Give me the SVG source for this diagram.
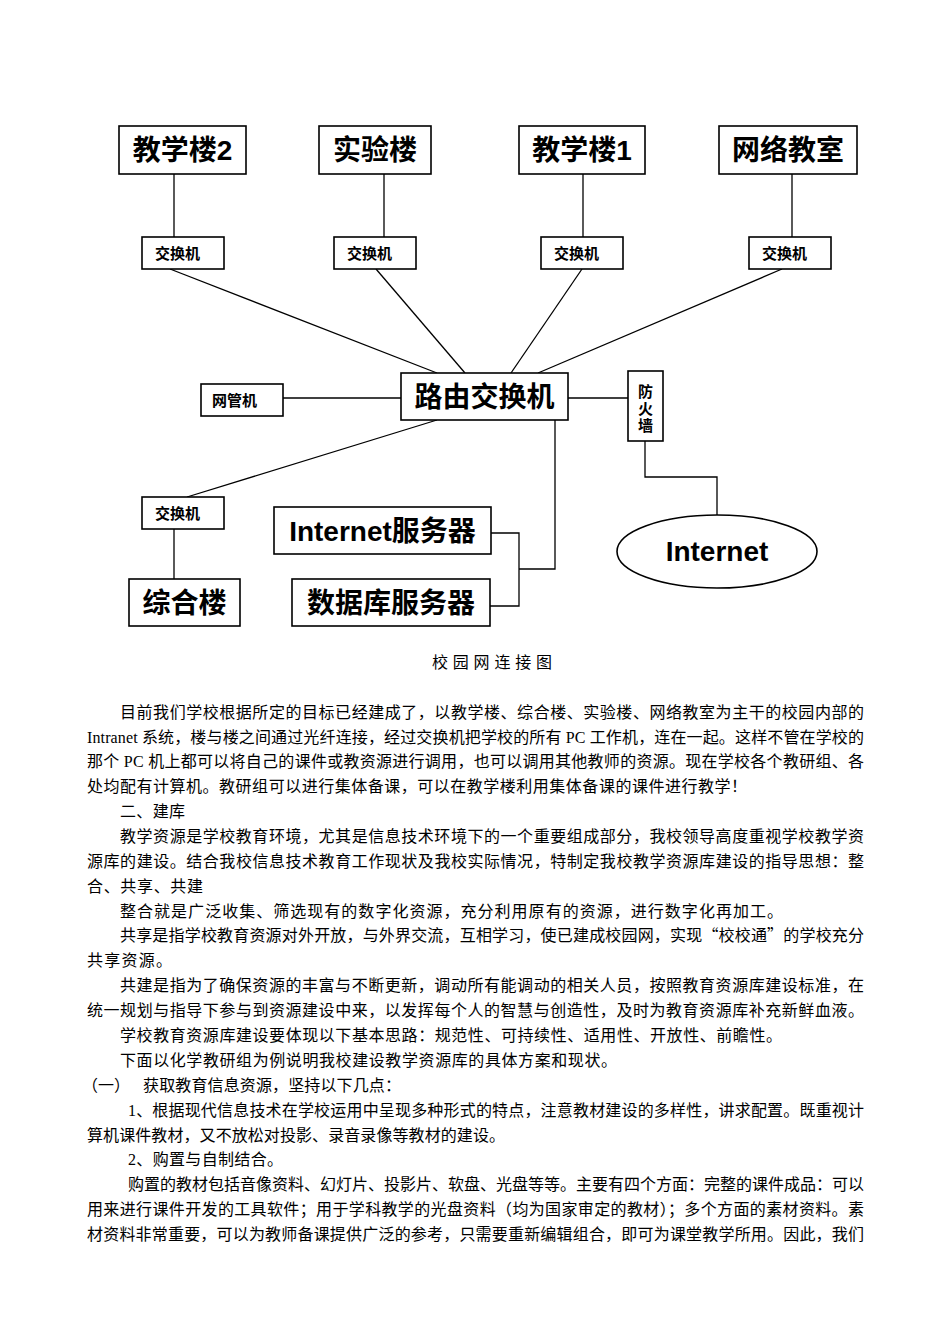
<svg xmlns="http://www.w3.org/2000/svg" width="950" height="1344" viewBox="0 0 950 1344">
<style>
.box{fill:#fff;stroke:#000;stroke-width:1.6}
.big{font-family:"Liberation Sans","Noto Sans CJK SC",sans-serif;font-weight:bold;font-size:28px;fill:#000}
.sm{font-family:"Liberation Sans","Noto Sans CJK SC",sans-serif;font-weight:bold;font-size:15px;fill:#000}
.body{font-family:"Liberation Serif","Noto Sans CJK SC",serif;font-size:16px;fill:#000}
.cjk{font-family:"Noto Sans CJK SC",sans-serif}
.conn line,.conn polyline{stroke:#000;stroke-width:1.3;fill:none}
</style>
<rect width="950" height="1344" fill="#fff"/>
<g class="conn">
<line x1="174" y1="174" x2="174" y2="237"/>
<line x1="384" y1="174" x2="384" y2="237"/>
<line x1="583" y1="174" x2="583" y2="237"/>
<line x1="792" y1="174" x2="792" y2="237"/>
<line x1="170" y1="269" x2="437" y2="373"/>
<line x1="376" y1="269" x2="465" y2="373"/>
<line x1="582" y1="269" x2="511" y2="373"/>
<line x1="782" y1="269" x2="538" y2="373"/>
<line x1="283" y1="398" x2="401" y2="398"/>
<line x1="568" y1="398" x2="628" y2="398"/>
<polyline points="645,441 645,477 717,477 717,515"/>
<line x1="437" y1="420" x2="187" y2="497"/>
<line x1="174" y1="529" x2="174" y2="579"/>
<polyline points="555,420 555,569 519,569"/>
<polyline points="491,533 519,533 519,606 490,606"/>
</g>
<g id="n-jxl2"><rect class="box" x="119" y="126" width="127" height="48"/><text class="big" x="182.5" y="160" text-anchor="middle">教学楼2</text></g>
<g id="n-syl"><rect class="box" x="319" y="126" width="112" height="48"/><text class="big" x="375" y="160" text-anchor="middle">实验楼</text></g>
<g id="n-jxl1"><rect class="box" x="519" y="126" width="126" height="48"/><text class="big" x="582" y="160" text-anchor="middle">教学楼1</text></g>
<g id="n-wljs"><rect class="box" x="719" y="126" width="138" height="48"/><text class="big" x="788" y="160" text-anchor="middle">网络教室</text></g>
<g id="n-sw1"><rect class="box" x="142" y="237" width="82" height="32"/><text class="sm" x="155" y="259">交换机</text></g>
<g id="n-sw2"><rect class="box" x="334" y="237" width="82" height="32"/><text class="sm" x="347" y="259">交换机</text></g>
<g id="n-sw3"><rect class="box" x="541" y="237" width="82" height="32"/><text class="sm" x="554" y="259">交换机</text></g>
<g id="n-sw4"><rect class="box" x="749" y="237" width="82" height="32"/><text class="sm" x="762" y="259">交换机</text></g>
<g id="n-router"><rect class="box" x="401" y="373" width="167" height="47"/><text class="big" x="484.5" y="407" text-anchor="middle">路由交换机</text></g>
<g id="n-wgj"><rect class="box" x="201" y="384" width="82" height="32"/><text class="sm" x="212" y="406">网管机</text></g>
<g id="n-fhq"><rect class="box" x="628" y="371" width="35" height="70"/>
<text class="sm" x="645.5" y="397" text-anchor="middle">防</text>
<text class="sm" x="645.5" y="414" text-anchor="middle">火</text>
<text class="sm" x="645.5" y="431" text-anchor="middle">墙</text></g>
<g id="n-internet"><ellipse cx="717" cy="551.5" rx="100" ry="36.5" fill="#fff" stroke="#000" stroke-width="1.6"/><text class="big" x="717" y="561" text-anchor="middle">Internet</text></g>
<g id="n-sw5"><rect class="box" x="142" y="497" width="82" height="32"/><text class="sm" x="155" y="519">交换机</text></g>
<g id="n-zhl"><rect class="box" x="129" y="579" width="111" height="47"/><text class="big" x="184.5" y="613" text-anchor="middle">综合楼</text></g>
<g id="n-ifw"><rect class="box" x="274" y="507" width="217" height="47"/><text class="big" x="382.5" y="541" text-anchor="middle">Internet服务器</text></g>
<g id="n-sjk"><rect class="box" x="292" y="579" width="198" height="47"/><text class="big" x="391" y="613" text-anchor="middle">数据库服务器</text></g>
<g id="caption"><text class="body" x="432" y="668" font-size="14" textLength="120" lengthAdjust="spacing">校园网连接图</text></g>
<g id="body-text">
<text class="body" x="120" y="718" textLength="744" lengthAdjust="spacing">目前我们学校根据所定的目标已经建成了，以教学楼、综合楼、实验楼、网络教室为主干的校园内部的</text>
<text class="body" x="87" y="743" textLength="777" lengthAdjust="spacing">Intranet 系统，楼与楼之间通过光纤连接，经过交换机把学校的所有 PC 工作机，连在一起。这样不管在学校的</text>
<text class="body" x="87" y="767" textLength="777" lengthAdjust="spacing">那个 PC 机上都可以将自己的课件或教资源进行调用，也可以调用其他教师的资源。现在学校各个教研组、各</text>
<text class="body" x="87" y="792" textLength="660" lengthAdjust="spacing">处均配有计算机。教研组可以进行集体备课，可以在教学楼利用集体备课的课件进行教学！</text>
<text class="body" x="120" y="817" textLength="65" lengthAdjust="spacing">二、建库</text>
<text class="body" x="120" y="842" textLength="744" lengthAdjust="spacing">教学资源是学校教育环境，尤其是信息技术环境下的一个重要组成部分，我校领导高度重视学校教学资</text>
<text class="body" x="87" y="867" textLength="777" lengthAdjust="spacing">源库的建设。结合我校信息技术教育工作现状及我校实际情况，特制定我校教学资源库建设的指导思想：整</text>
<text class="body" x="87" y="892" textLength="116" lengthAdjust="spacing">合、共享、共建</text>
<text class="body" x="120" y="917" textLength="663" lengthAdjust="spacing">整合就是广泛收集、筛选现有的数字化资源，充分利用原有的资源，进行数字化再加工。</text>
<text class="body" x="120" y="941" textLength="744" lengthAdjust="spacing">共享是指学校教育资源对外开放，与外界交流，互相学习，使已建成校园网，实现<tspan class="cjk">“</tspan>校校通<tspan class="cjk">”</tspan>的学校充分</text>
<text class="body" x="87" y="966" textLength="85" lengthAdjust="spacing">共享资源。</text>
<text class="body" x="120" y="991" textLength="744" lengthAdjust="spacing">共建是指为了确保资源的丰富与不断更新，调动所有能调动的相关人员，按照教育资源库建设标准，在</text>
<text class="body" x="87" y="1016" textLength="777" lengthAdjust="spacing">统一规划与指导下参与到资源建设中来，以发挥每个人的智慧与创造性，及时为教育资源库补充新鲜血液。</text>
<text class="body" x="120" y="1041" textLength="662" lengthAdjust="spacing">学校教育资源库建设要体现以下基本思路：规范性、可持续性、适用性、开放性、前瞻性。</text>
<text class="body" x="120" y="1066" textLength="497" lengthAdjust="spacing">下面以化学教研组为例说明我校建设教学资源库的具体方案和现状。</text>
<text class="body cjk" x="82" y="1091">（一）</text>
<text class="body" x="143" y="1091" textLength="258" lengthAdjust="spacing">获取教育信息资源，坚持以下几点：</text>
<text class="body" x="128" y="1116" textLength="736" lengthAdjust="spacing">1、根据现代信息技术在学校运用中呈现多种形式的特点，注意教材建设的多样性，讲求配置。既重视计</text>
<text class="body" x="87" y="1141" textLength="418" lengthAdjust="spacing">算机课件教材，又不放松对投影、录音录像等教材的建设。</text>
<text class="body" x="128" y="1165" textLength="155" lengthAdjust="spacing">2、购置与自制结合。</text>
<text class="body" x="128" y="1190" textLength="736" lengthAdjust="spacing">购置的教材包括音像资料、幻灯片、投影片、软盘、光盘等等。主要有四个方面：完整的课件成品：可以</text>
<text class="body" x="87" y="1215" textLength="777" lengthAdjust="spacing">用来进行课件开发的工具软件；用于学科教学的光盘资料（均为国家审定的教材）；多个方面的素材资料。素</text>
<text class="body" x="87" y="1240" textLength="777" lengthAdjust="spacing">材资料非常重要，可以为教师备课提供广泛的参考，只需要重新编辑组合，即可为课堂教学所用。因此，我们</text>
</g>
</svg>
